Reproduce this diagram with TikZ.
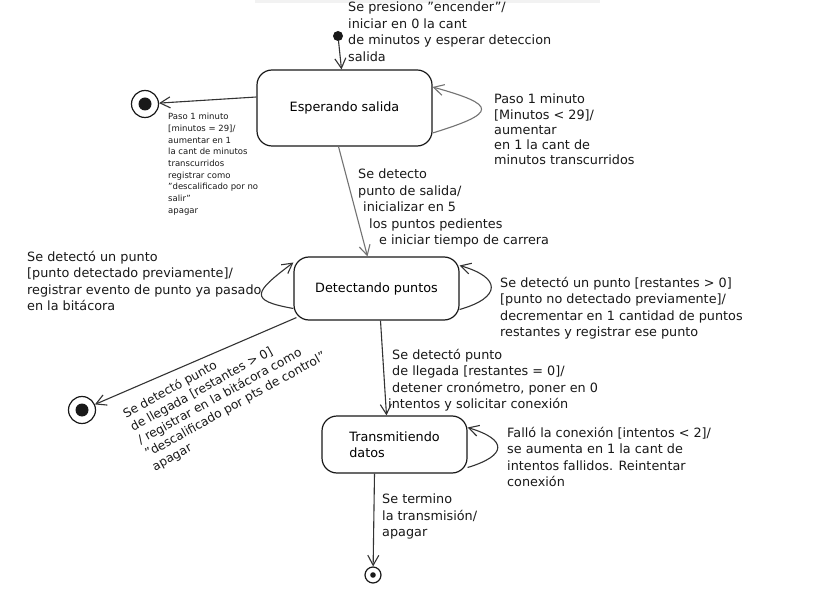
\documentclass[tikz,border=0pt]{standalone}
\usepackage{fontspec}
\setmainfont{DejaVu Sans}
\usetikzlibrary{arrows.meta}
\newcommand{\dq}{\symbol{34}}
\begin{document}
\begin{tikzpicture}[x=1pt,y=-1pt,
  conn/.style={draw=black!80, line width=1.1pt, -{Straight Barb[length=10pt,width=11pt]}},
  state/.style={draw=black!90, line width=1.2pt, rounded corners=15pt, font=\fontsize{12.8}{16.5}\selectfont, align=center},
  lbl/.style={font=\fontsize{12.8}{16.5}\selectfont, align=left, anchor=north west, inner sep=0pt, text=black!90},
  small/.style={font=\fontsize{8.5}{11.7}\selectfont, align=left, anchor=north west, inner sep=0pt, text=black!90},
  final/.style={circle, draw=black!90, line width=1.2pt, minimum size=27pt, inner sep=0pt,
    path picture={\fill[black!90] (path picture bounding box.center) circle (6.5pt);}},
]
\fill[white] (0,0) rectangle (821,593);
\useasboundingbox (0,0) rectangle (821,593);
\fill[black!5] (255,0) rectangle (600,3);

% states
\node[fill=black!90, circle, minimum size=10pt, inner sep=0pt] (init) at (338,36) {};
\node[state, minimum width=175pt, minimum height=76pt] (esp) at (344.5,108) {Esperando salida};
\node[final] (fin1) at (145,104) {};
\node[state, minimum width=165pt, minimum height=63pt] (det) at (376.5,288.5) {Detectando puntos};
\node[final] (fin2) at (82,410) {};
\node[state, minimum width=145pt, minimum height=57pt, align=left] (tra) at (394.5,444.5) {Transmitiendo\\datos};
\node[circle, draw=black!90, line width=1.2pt, minimum size=16pt, inner sep=0pt,
  path picture={\fill[black!90] (path picture bounding box.center) circle (2.8pt);}] (fin3) at (373,575) {};

% labels
\node[lbl] (t0) at (348,2) {Se presiono \dq encender\dq/\\iniciar en 0 la cant\\de minutos y esperar deteccion\\salida};
\node[lbl, font=\fontsize{12.8}{15.2}\selectfont] (t1) at (494,94) {Paso 1 minuto\\{}[Minutos < 29]/\\aumentar\\en 1 la cant de\\minutos transcurridos};
\node[small] (t2) at (168,113) {Paso 1 minuto\\{}[minutos = 29]/\\aumentar en 1\\la cant de minutos\\transcurridos\\registrar como\\\dq descalificado por no\\salir\dq\\apagar};
\node[lbl] (t3) at (358,169) {Se detecto\\punto de salida/\\\hspace*{5pt}inicializar en 5\\\hspace*{11pt}los puntos pedientes\\\hspace*{21pt}e iniciar tiempo de carrera};
\node[lbl] (t4) at (27,251) {Se detectó un punto\\{}[punto detectado previamente]/\\registrar evento de punto ya pasado\\en la bitácora};
\node[lbl] (t5) at (500,277) {Se detectó un punto [restantes > 0]\\{}[punto no detectado previamente]/\\decrementar en 1 cantidad de puntos\\restantes y registrar ese punto};
\node[lbl] (t6) at (388,349) {\hspace*{4pt}Se detectó punto\\\hspace*{4pt}de llegada [restantes = 0]/\\\hspace*{4pt}detener cronómetro, poner en 0\\intentos y solicitar conexión};
\node[lbl, rotate=29, font=\fontsize{12.2}{15}\selectfont] (t7) at (121,410) {Se detectó punto\\de llegada [restantes > 0]\\/ registrar en la bitácora como\\\dq descalificado por pts de control\dq\\apagar};
\node[lbl] (t8) at (507,427) {Falló la conexión [intentos < 2]/\\se aumenta en 1 la cant de\\intentos fallidos. Reintentar\\conexión};
\node[lbl] (t9) at (382,494) {Se termino\\la transmisión/\\apagar};

% connectors
\draw[conn] (init) -- ([xshift=-3pt]esp.north);
\draw[conn] ([yshift=11pt]esp.west) -- (fin1);
\draw[conn, draw=black!55] ([yshift=-25pt]esp.east) .. controls +(65,-20) and +(65,18) .. ([yshift=21pt]esp.east);
\draw[conn, draw=black!55] ([xshift=-6pt]esp.south) -- ([xshift=-9pt]det.north);
\draw[conn] ([yshift=-21pt]det.east) .. controls +(42,-12) and +(42,12) .. ([yshift=23pt]det.east);
\draw[conn] ([yshift=-20pt]det.west) .. controls +(-45,-8) and +(-40,30) .. ([yshift=26pt]det.west);
\draw[conn] ([xshift=3pt,yshift=3pt]det.south west) -- (fin2);
\draw[conn] ([xshift=4pt]det.south) -- ([xshift=-8pt]tra.north);
\draw[conn] ([yshift=-23pt]tra.east) .. controls +(40,-12) and +(40,12) .. ([yshift=17pt]tra.east);
\draw[conn] ([xshift=-20pt]tra.south) -- (fin3);
\end{tikzpicture}
\end{document}
